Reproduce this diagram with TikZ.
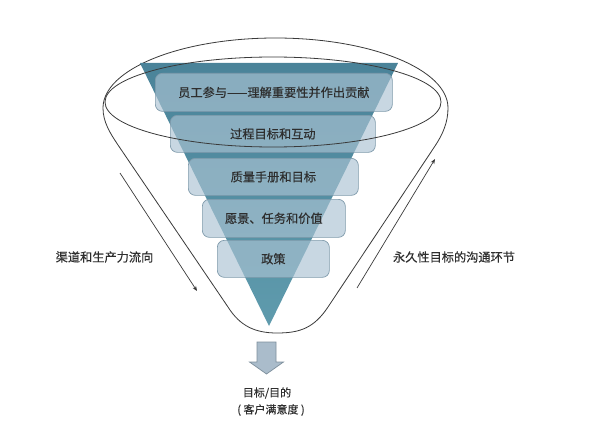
\documentclass[tikz,border=0pt]{standalone}
\usepackage{fontspec}
\setmainfont{Noto Sans CJK SC}[FakeBold=0.35]
\usetikzlibrary{arrows.meta}
\definecolor{txt}{HTML}{2E2E2E}
\definecolor{tritop}{HTML}{4A8399}
\definecolor{tribot}{HTML}{5F9BAD}
\definecolor{boxfill}{RGB}{171,195,211}
\definecolor{boxline}{HTML}{7F9AAB}
\definecolor{outline}{HTML}{3A3A3A}
\definecolor{arrfill}{HTML}{AABCCB}
\definecolor{arrline}{HTML}{7D8F9C}
\tikzset{
  layerbox/.style={rounded corners=7pt, fill=boxfill, fill opacity=0.65, draw=boxline, line width=0.7pt,
    text opacity=1, text=txt, font=\fontsize{12.2pt}{14pt}\selectfont, inner sep=0pt, anchor=north west},
  funnelline/.style={draw=outline, line width=0.8pt},
  flowarrow/.style={draw=outline, line width=0.7pt, -{Stealth[length=5pt,width=4pt]}},
  lbl/.style={text=txt, font=\fontsize{12.2pt}{14pt}\selectfont, inner sep=0pt},
  smalllbl/.style={text=txt, font=\fontsize{11pt}{13pt}\selectfont, inner sep=0pt},
}
\begin{document}
\begin{tikzpicture}[x=1pt,y=-1pt]
\useasboundingbox (0,0) rectangle (612,425);
\fill[white] (0,0) rectangle (612,425);

% funnel outline
\draw[funnelline] (103,108) .. controls (103,69.3) and (180.2,38) .. (275.5,38)
  .. controls (370.8,38) and (448,69.3) .. (448,108)
  .. controls (448,122) and (443,134) .. (435,146)
  -- (328,307) .. controls (314,328) and (300,333) .. (277,333)
  .. controls (255,333) and (240,326) .. (228,307)
  -- (118,145) .. controls (110,133) and (103,122) .. (103,108);

% inverted triangle
\shade[top color=tritop, bottom color=tribot] (140,63) -- (398,63) -- (269,326) -- cycle;

% layer boxes
\node[layerbox, minimum width=237pt, minimum height=38pt] (b1) at (155,73) {员工参与——理解重要性并作出贡献};
\node[layerbox, minimum width=205pt, minimum height=37pt] (b2) at (170,115) {过程目标和互动};
\node[layerbox, minimum width=170pt, minimum height=37pt] (b3) at (188,158) {质量手册和目标};
\node[layerbox, minimum width=143pt, minimum height=38pt] (b4) at (202,199) {愿景、任务和价值};
\node[layerbox, minimum width=112pt, minimum height=37pt] (b5) at (217,240) {政策};

% rim ellipse
\draw[funnelline] (273,102) ellipse [x radius=168pt, y radius=45pt];

% flow arrows
\coordinate (la1) at (120,173);
\coordinate (la2) at (197,291);
\coordinate (ra1) at (357,288);
\coordinate (ra2) at (435,159);
\draw[flowarrow] (la1) -- (la2);
\draw[flowarrow] (ra1) -- (ra2);

% side labels
\node[lbl] (ll) at (104.5,257) {渠道和生产力流向};
\node[lbl] (rl) at (454,257) {永久性目标的沟通环节};

% block arrow
\draw[fill=arrfill, draw=arrline, line width=0.7pt] (257,342) -- (276,342) -- (276,362) -- (283.5,362)
  -- (266.5,374) -- (249.5,362) -- (257,362) -- cycle;

% bottom labels
\node[smalllbl] (g1) at (267,393) {目标/目的};
\node[smalllbl] (g2) at (271,410) {(\ 客户满意度\ )};
\end{tikzpicture}
\end{document}
